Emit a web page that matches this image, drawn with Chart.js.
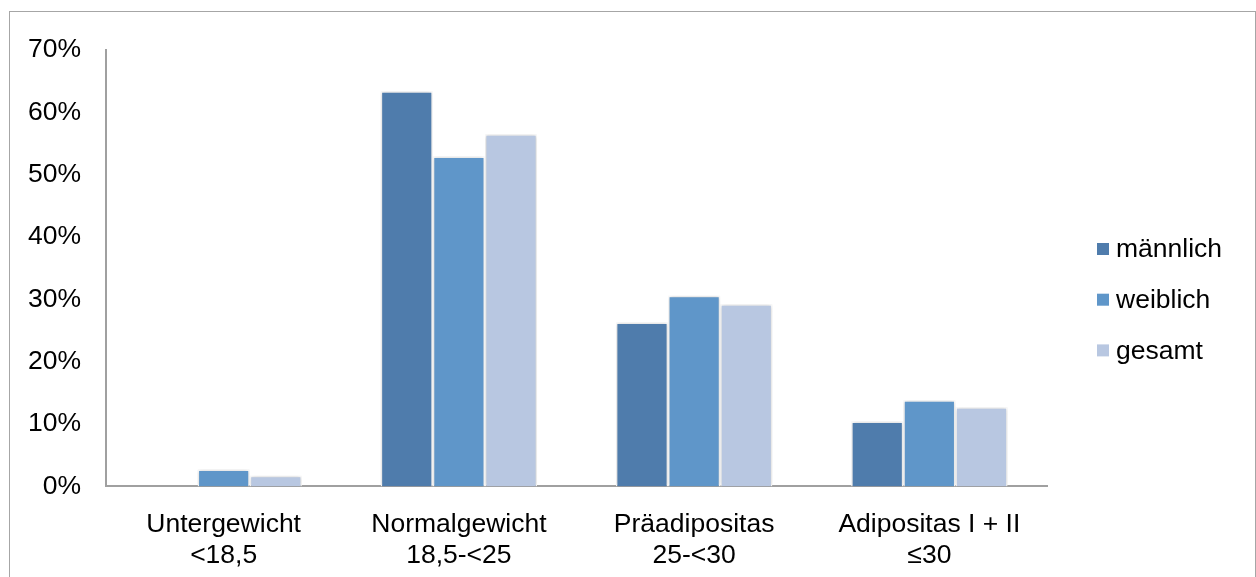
<!DOCTYPE html>
<html>
<head>
<meta charset="utf-8">
<script src="https://cdn.jsdelivr.net/npm/chart.js@4.4.0/dist/chart.umd.min.js"></script>
<style>
  html, body { margin: 0; padding: 0; background: #fff; overflow: hidden; }
  #wrap { position: relative; width: 1256px; height: 577px; overflow: hidden; }
  #frame { position: absolute; left: 9px; top: 11px; width: 1247px; height: 620px; border: 1.5px solid #a6a6a6; box-sizing: border-box; }
  #chart { position: absolute; left: 0; top: 0; }
</style>
</head>
<body>
<div id="wrap">
  <div id="frame"></div>
  <canvas id="chart" width="1256" height="600"></canvas>
</div>
<script>
// categories (BMI classes) and values in percent
const categories = [
  ["Untergewicht", "<18,5"],
  ["Normalgewicht", "18,5-<25"],
  ["Präadipositas", "25-<30"],
  ["Adipositas I + II", "≤30"],
];
const seriesNames = ["männlich", "weiblich", "gesamt"];
const maennlich = [0, 63.4, 26.3, 10.4];
const weiblich = [2.7, 52.9, 30.6, 13.8];
const gesamt = [1.7, 56.5, 29.2, 12.7];
const seriesColors = ["#4f7cac", "#5f96c9", "#b8c7e1"];

const FONT = "'Liberation Sans', Arial, sans-serif";
const FONT_SIZE = 26.5;

// soft shadow behind the bars, like the office chart
const barShadow = {
  id: "barShadow",
  beforeDatasetsDraw(chart) {
    const ctx = chart.ctx;
    ctx.save();
    ctx.shadowColor = "rgba(0, 0, 0, 0.22)";
    ctx.shadowBlur = 4;
    ctx.shadowOffsetX = 0;
    ctx.shadowOffsetY = 0;
  },
  afterDatasetsDraw(chart) {
    chart.ctx.restore();
  },
};

// legend on the right, drawn by hand so the gap to the plot can be set
const sideLegend = {
  id: "sideLegend",
  afterDraw(chart) {
    const ctx = chart.ctx;
    const boxX = 1097;
    const firstY = 249;
    const step = 50.7;
    ctx.save();
    ctx.font = FONT_SIZE + "px " + FONT;
    ctx.textBaseline = "middle";
    chart.data.datasets.forEach((ds, i) => {
      const y = firstY + i * step;
      ctx.fillStyle = ds.backgroundColor;
      ctx.fillRect(boxX, y - 6, 12, 12);
      ctx.fillStyle = "#000";
      ctx.fillText(ds.label, boxX + 19, y + 1);
    });
    ctx.restore();
  },
};

new Chart(document.getElementById("chart"), {
  type: "bar",
  data: {
    labels: categories,
    datasets: [maennlich, weiblich, gesamt].map((values, i) => ({
      label: seriesNames[i],
      data: values,
      backgroundColor: seriesColors[i],
      borderColor: "#ffffff",
      borderWidth: 1.5,
      barPercentage: 1,
      categoryPercentage: 0.665,
    })),
  },
  options: {
    responsive: false,
    animation: false,
    layout: { padding: { left: 3, right: 209, top: 50, bottom: 6 } },
    plugins: {
      legend: { display: false },
      tooltip: { enabled: false },
    },
    scales: {
      x: {
        grid: { display: false, drawTicks: false },
        border: { color: "#a0a0a0", width: 2 },
        ticks: {
          color: "#000",
          padding: 22,
          maxRotation: 0,
          font: { family: FONT, size: FONT_SIZE, lineHeight: 1.2 },
        },
      },
      y: {
        min: 0,
        max: 70,
        grid: { display: false, drawTicks: false },
        border: { color: "#a0a0a0", width: 2 },
        ticks: {
          stepSize: 10,
          color: "#000",
          padding: 25,
          font: { family: FONT, size: FONT_SIZE },
          callback: (v) => v + "%",
        },
      },
    },
  },
  plugins: [barShadow, sideLegend],
});
</script>
</body>
</html>
